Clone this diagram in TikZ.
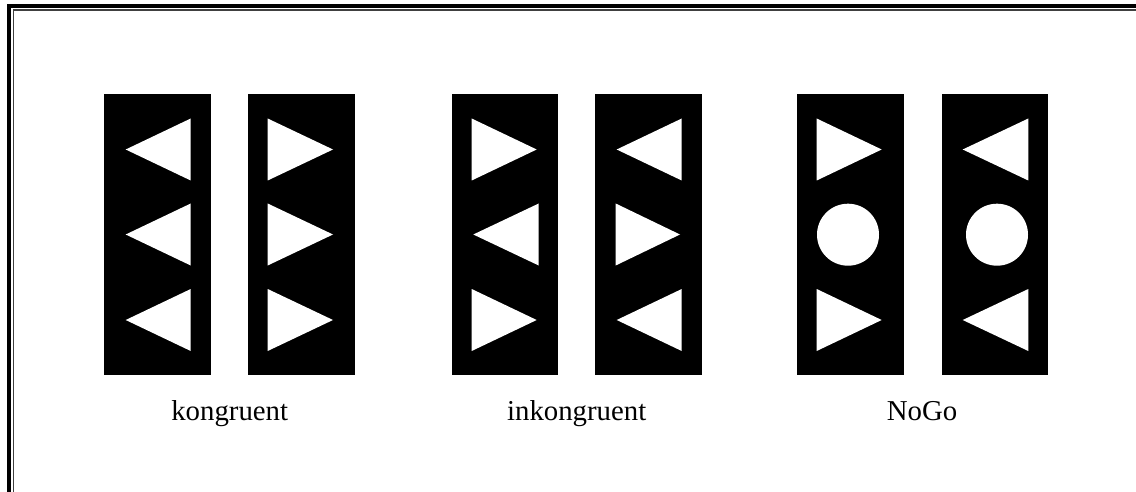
\documentclass[tikz,border=0pt]{standalone}
\usepackage{fontspec}
\setmainfont{Liberation Serif}
\begin{document}
\begin{tikzpicture}[x=1pt,y=-1pt,
  panel/.style={fill=black},
  glyph/.style={fill=white},
  lbl/.style={anchor=base,inner sep=0pt,font=\fontsize{28.8}{30}\selectfont}]
\useasboundingbox (0,0) rectangle (1136,492);
\fill[white] (0,0) rectangle (1136,492);
% frame (left and top visible)
\fill[black] (7,4) rectangle (11,492);
\fill[black] (7,4) rectangle (1136,8);
\fill[black!75] (12.5,9.2) rectangle (14,492);
\fill[black!75] (12.5,9.2) rectangle (1136,10.7);
% panels
\newcommand{\lefttri}[3]{\fill[glyph] (#1,#3) -- (#2,#3-31) -- (#2,#3+31) -- cycle;}
\newcommand{\righttri}[3]{\fill[glyph] (#2,#3) -- (#1,#3-31) -- (#1,#3+31) -- cycle;}
% kongruent
\fill[panel] (104,94) rectangle (210.7,375);
\lefttri{125.7}{190.7}{149.5}
\lefttri{125.7}{190.7}{234.5}
\lefttri{125.7}{190.7}{320}
\fill[panel] (248.3,94) rectangle (355,375);
\righttri{267.7}{333}{149.5}
\righttri{267.7}{333}{234.5}
\righttri{267.7}{333}{320}
% inkongruent
\fill[panel] (451.7,94) rectangle (558.3,375);
\righttri{471.7}{536.7}{149.5}
\lefttri{473.3}{538.7}{234.5}
\righttri{471.7}{536.7}{320}
\fill[panel] (595,94) rectangle (701.7,375);
\lefttri{616.7}{681.7}{149.5}
\righttri{615.7}{680}{234.5}
\lefttri{616.7}{681.7}{320}
% NoGo
\fill[panel] (796.7,94) rectangle (904,375);
\righttri{816.7}{881.7}{149.5}
\fill[glyph] (848,234.7) circle (31);
\righttri{816.7}{881.7}{320}
\fill[panel] (941.7,94) rectangle (1048.3,375);
\lefttri{962.7}{1028.3}{149.5}
\fill[glyph] (997,234.7) circle (31);
\lefttri{962.7}{1028.3}{320}
% labels
\node[lbl] (l1) at (229.7,420) {kongruent};
\node[lbl] (l2) at (576.7,420) {inkongruent};
\node[lbl] (l3) at (922,420) {NoGo};
\end{tikzpicture}
\end{document}
